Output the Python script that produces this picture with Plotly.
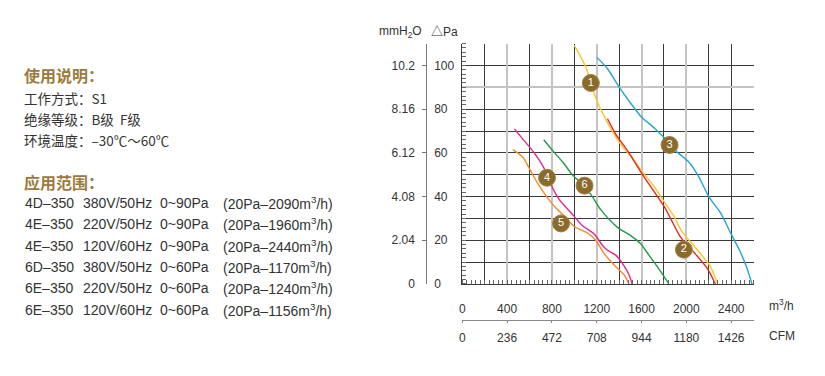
import plotly.graph_objects as go

# ---------------- data ----------------
flow_1 = [999, 1103, 1192, 1266, 1355, 1459, 1503, 1598, 1711, 1797, 1889, 1948, 1990, 2066, 2155, 2215, 2280]
pres_1 = [109.2, 99.2, 85, 76.8, 68.5, 61, 58.8, 52, 44.6, 38, 31, 25, 22, 17.6, 12, 8, 0]

flow_2 = [1296, 1370, 1474, 1622, 1800, 1889, 1948, 2066, 2185, 2259]
pres_2 = [75.6, 68.5, 61, 49, 35.6, 27, 21.4, 14.6, 7.2, 0]

flow_3 = [1201, 1296, 1399, 1503, 1592, 1711, 1800, 1919, 2022, 2111, 2200, 2304, 2393, 2482, 2541, 2586]
pres_3 = [103.7, 98.5, 90.2, 82.7, 76.8, 71.5, 67, 60.3, 55.8, 49, 40, 32.6, 23.6, 14.6, 7.2, 0]

flow_4 = [465, 540, 614, 688, 747, 807, 866, 970, 1074, 1177, 1252, 1296, 1370, 1429, 1488, 1515]
pres_4 = [71, 66.3, 61.8, 56.6, 51.3, 43.8, 38.6, 32.6, 26.6, 22.9, 17.6, 15.4, 13.2, 9.4, 4.2, 0]

flow_5 = [451, 540, 599, 673, 762, 836, 910, 999, 1118, 1192, 1266, 1355, 1444, 1488]
pres_5 = [61.5, 58, 52.8, 46, 39.3, 34.8, 31.1, 26.3, 23.3, 19.9, 13.9, 8.7, 4.2, 0]

flow_6 = [727, 807, 896, 985, 1074, 1147, 1236, 1385, 1503, 1592, 1666, 1741, 1844]
pres_6 = [66, 61, 55.8, 49.8, 45.5, 41, 34, 25.9, 22.1, 18.4, 13.2, 7.9, 0]

curve_colors = ["#FDC526", "#E42922", "#22A7CE", "#E2268C", "#F28A2C", "#22994B"]

label_ids = ["1", "2", "3", "4", "5", "6"]
label_flow = [1147, 1978, 1850, 756, 881, 1091]
label_pres = [92, 15.7, 63.6, 48.6, 27.7, 45]

# grid / tick positions (every grid line carries a tick, labels only on some)
flow_grid = [0, 200, 400, 600, 800, 1000, 1200, 1400, 1600, 1800, 2000, 2200, 2400, 2600]
flow_ticktext = ["0", "", "400", "", "800", "", "1200", "", "1600", "", "2000", "", "2400", ""]
flow_light = [400, 800, 1200, 1600, 2000]
cfm_ticks = [0, 400, 800, 1200, 1600, 2000, 2400]
cfm_ticktext = ["0", "236", "472", "708", "944", "1180", "1426"]
pa_grid = [0, 10, 20, 30, 40, 50, 60, 70, 80, 90, 100, 110]
mmh2o_ticktext = ["0", "", "2.04", "", "4.08", "", "6.12", "", "8.16", "", "10.2", ""]
pa_light = [90, 110]
pa_ticks = [0, 20, 40, 60, 80, 100]
pa_ticktext = ["0", "20", "40", "60", "80", "100"]

info_title = "使用说明："
info_lines = ["工作方式：S1", "绝缘等级：B级  F级", "环境温度：–30℃～60℃"]
range_title = "应用范围："
models = ["4D–350", "4E–350", "4E–350", "6D–350", "6E–350", "6E–350"]
voltages = ["380V/50Hz", "220V/50Hz", "120V/60Hz", "380V/50Hz", "220V/50Hz", "120V/60Hz"]
pressures = ["0~90Pa", "0~90Pa", "0~90Pa", "0~60Pa", "0~60Pa", "0~60Pa"]
flows_at20 = ["(20Pa–2090m<sup>3</sup>/h)", "(20Pa–1960m<sup>3</sup>/h)", "(20Pa–2440m<sup>3</sup>/h)",
              "(20Pa–1170m<sup>3</sup>/h)", "(20Pa–1240m<sup>3</sup>/h)", "(20Pa–1156m<sup>3</sup>/h)"]

# ---------------- figure ----------------
OFF = 8  # page body margin
W, H = 825 - OFF, 376 - OFF
FONT = "Liberation Sans, Arial, Noto Sans CJK SC, sans-serif"
CJK = "Noto Sans CJK SC, Liberation Sans, sans-serif"


def px(x):
    return (x - OFF) / W


def py(y):
    return 1 - (y - OFF) / H


fig = go.Figure()
flows = [flow_1, flow_2, flow_3, flow_4, flow_5, flow_6]
press = [pres_1, pres_2, pres_3, pres_4, pres_5, pres_6]
axes_pairs = [("x", "y"), ("x", "y"), ("x", "y"), ("x2", "y2"), ("x2", "y2"), ("x3", "y3")]
for f, p, c, (xa, ya) in zip(flows, press, curve_colors, axes_pairs):
    fig.add_trace(go.Scatter(x=f, y=p, mode="lines", xaxis=xa, yaxis=ya,
                             line=dict(color=c, width=1.4, shape="spline", smoothing=0.7),
                             hoverinfo="skip", showlegend=False))

fig.add_trace(go.Scatter(x=label_flow, y=label_pres, mode="markers+text", text=label_ids,
                         xaxis="x3", yaxis="y3",
                         textposition="middle center",
                         textfont=dict(color="white", size=11, family=FONT),
                         marker=dict(size=17, color="#8A6B2C", line=dict(color="#A08447", width=1)),
                         hoverinfo="skip", showlegend=False))

DARK = "#3a3a3a"
LIGHT = "#c4c4c4"
x_dom = [px(461), px(753.3)]
y_dom = [py(289.3), py(44.3)]

fig.update_layout(
    width=W, height=H,
    margin=dict(l=0, r=0, t=0, b=0, pad=0),
    paper_bgcolor="white", plot_bgcolor="white",
    font=dict(family=FONT, size=12, color="#333"),
    # main flow axis: grid + m3/h labels
    xaxis=dict(domain=x_dom, range=[0, 2600], anchor="y", tickmode="array",
               tickvals=flow_grid, ticktext=flow_ticktext, showgrid=True, gridcolor=DARK, gridwidth=1,
               ticks="", ticklabelstandoff=14, tickfont=dict(size=12, color="#333"),
               zeroline=False, showline=True, linecolor=DARK, linewidth=1,
               minor=dict(tickmode="linear", tick0=0, dtick=40, ticks="inside", ticklen=4,
                          tickcolor="#666", tickwidth=1, showgrid=False)),
    # main pressure axis: grid + mmH2O labels (far left)
    yaxis=dict(domain=y_dom, range=[0, 110], anchor="x", tickmode="array",
               tickvals=pa_grid, ticktext=mmh2o_ticktext, showgrid=True, gridcolor=DARK, gridwidth=1,
               ticks="", ticklabelstandoff=44, tickfont=dict(size=12, color="#333"),
               zeroline=False, showline=True, linecolor=DARK, linewidth=1,
               minor=dict(tickmode="linear", tick0=0, dtick=2, ticks="inside", ticklen=4,
                          tickcolor="#666", tickwidth=1, showgrid=False)),
    # CFM axis with its own line below the chart
    xaxis2=dict(overlaying="x", anchor="free", position=py(325.7), side="bottom", range=[0, 2600],
                tickmode="array", tickvals=cfm_ticks, ticktext=cfm_ticktext, showgrid=False, zeroline=False,
                showline=True, linecolor="#888", linewidth=1, ticks="outside", ticklen=2, tickcolor="#888",
                ticklabelstandoff=5, tickfont=dict(size=12, color="#333")),
    # Pa axis with its own vertical line, labels to the right of it
    yaxis2=dict(overlaying="y", anchor="free", position=px(424.3), side="right", range=[0, 110],
                tickmode="array", tickvals=pa_ticks, ticktext=pa_ticktext, showgrid=False,
                zeroline=False, showline=True, linecolor="#777", linewidth=1, ticks="inside", ticklen=4,
                tickcolor="#777", ticklabelstandoff=5, tickfont=dict(size=12, color="#333")),
    # lighter grid lines
    xaxis3=dict(overlaying="x", anchor="y", range=[0, 2600], tickmode="array", tickvals=flow_light,
                showgrid=True, gridcolor=LIGHT, gridwidth=1.8, showticklabels=False, ticks="",
                zeroline=False, showline=False),
    yaxis3=dict(overlaying="y", anchor="x", range=[0, 110], tickmode="array", tickvals=pa_light,
                showgrid=True, gridcolor=LIGHT, gridwidth=1.8, showticklabels=False, ticks="",
                zeroline=False, showline=False),
)

ann = []


def text(x, y, s, size=14, color="#333", family=FONT, anchor="left"):
    ann.append(dict(x=px(x), y=py(y), xref="paper", yref="paper", text=s, showarrow=False,
                    xanchor=anchor, yanchor="middle", font=dict(size=size, color=color, family=family)))


# axis titles / units
text(375, 32.7, "mmH<sub>2</sub>O", size=12, family=FONT)
text(428, 32.7, "△Pa", size=12, family=FONT)
text(766.7, 310.7, "m<sup>3</sup>/h", size=12)
text(766.7, 342.3, "CFM", size=12)

# left description panel
BROWN = "#9C7A3B"
text(19, 76, "<b>" + info_title + "</b>", size=16, color=BROWN, family=CJK)
for i, s in enumerate(info_lines):
    text(19, 99.5 + i * 21.3, s, size=13.5, color="#333", family=CJK)
text(19, 185, "<b>" + range_title + "</b>", size=16, color=BROWN, family=CJK)
col_x = [20, 78, 156, 218.5]
for i in range(len(models)):
    yy = 206.7 + i * 21.8
    for cx, s in zip(col_x, [models[i], voltages[i], pressures[i], flows_at20[i]]):
        text(cx, yy, s, size=14, color="#333")

fig.update_layout(annotations=ann)
fig.write_html("out.html")
